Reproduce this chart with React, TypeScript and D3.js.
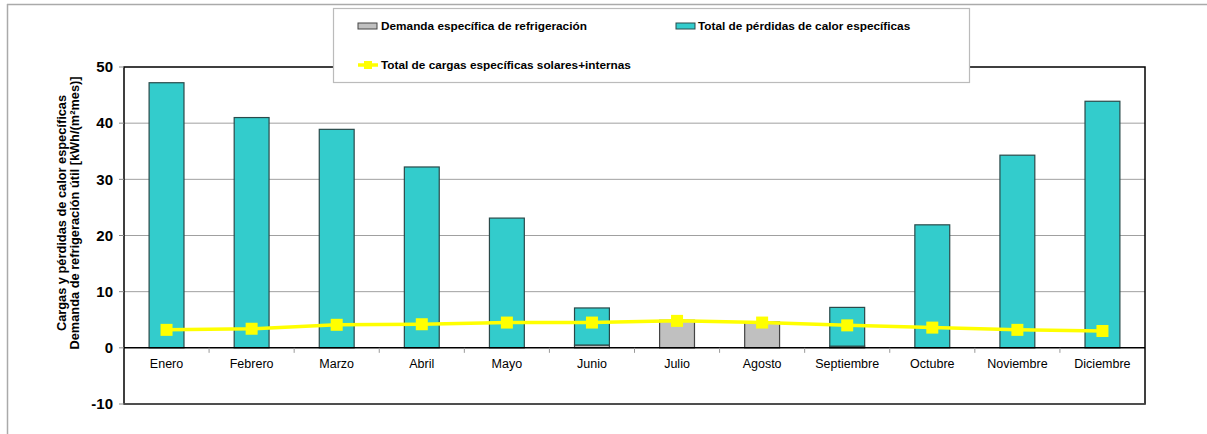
import React from "react";
import * as d3 from "d3";

const months = ["Enero","Febrero","Marzo","Abril","Mayo","Junio","Julio","Agosto","Septiembre","Octubre","Noviembre","Diciembre"];
const refrigeracion = [0, 0, 0, 0, 0, 0.5, 4.9, 4.6, 0.3, 0, 0, 0];
const perdidas = [47.2, 41.0, 38.9, 32.2, 23.1, 6.6, 0, 0, 6.9, 21.9, 34.3, 43.9];
const cargas = [3.2, 3.4, 4.1, 4.2, 4.5, 4.5, 4.8, 4.5, 4.0, 3.6, 3.2, 3.0];
const yTicks = [-10, 0, 10, 20, 30, 40, 50];

const FONT = "'Liberation Sans', Arial, sans-serif";

export default function App() {
  const W = 1207, H = 434;
  const L = 124, R = 1145, T = 67, B = 404;
  const x = d3.scaleBand<string>().domain(months).range([L, R]).paddingInner(0.59).paddingOuter(0.295);
  const xb = d3.scaleBand<string>().domain(months).range([L, R]);
  const y = d3.scaleLinear().domain([-10, 50]).range([B, T]);
  const line = d3.line<number>()
    .x((_, i) => (xb(months[i]) as number) + xb.bandwidth() / 2)
    .y((d) => y(d));

  return (
    <svg width={W} height={H} style={{ position: "absolute", left: 0, top: 0, fontFamily: FONT }}>
      <rect x={0} y={0} width={W} height={H} fill="#fff" />
      <line x1={7} x2={W} y1={4.5} y2={4.5} stroke="#aaa" strokeWidth={1.5} />
      <line x1={7.5} x2={7.5} y1={4} y2={H} stroke="#aaa" strokeWidth={1.5} />
      {/* gridlines */}
      {yTicks.filter((t) => t > 0 && t < 50).map((t) => (
        <line key={t} x1={L} x2={R} y1={y(t)} y2={y(t)} stroke="#a0a0a0" strokeWidth={1} />
      ))}
      {/* frame */}
      <rect x={L} y={T} width={R - L} height={B - T} fill="none" stroke="#000" strokeWidth={1.5} />
      <line x1={L} x2={R} y1={B} y2={B} stroke="#555" strokeWidth={1.5} />
      {/* y ticks */}
      {yTicks.map((t) => (
        <g key={t}>
          <line x1={L - 5} x2={L} y1={y(t)} y2={y(t)} stroke="#888" />
          <text x={113} y={y(t)} dy="0.35em" textAnchor="end" fontSize={15} fontWeight="bold">{t}</text>
        </g>
      ))}
      {/* bars */}
      {months.map((m, i) => {
        const bx = x(m) as number;
        const bw = x.bandwidth();
        const g0 = y(0), g1 = y(refrigeracion[i]);
        const t1 = y(refrigeracion[i] + perdidas[i]);
        return (
          <g key={m}>
            {refrigeracion[i] > 0 && (
              <rect x={bx} y={g1} width={bw} height={g0 - g1} fill="#c0c0c0" stroke="#444" strokeWidth={1.2} />
            )}
            {perdidas[i] > 0 && (
              <rect x={bx} y={t1} width={bw} height={g1 - t1} fill="#33cccc" stroke="#2a4a4a" strokeWidth={1.2} />
            )}
          </g>
        );
      })}
      {/* zero line */}
      <line x1={L} x2={R} y1={y(0)} y2={y(0)} stroke="#000" strokeWidth={1.5} />
      {/* category ticks */}
      {months.slice(1).map((m) => (
        <line key={m} x1={xb(m) as number} x2={xb(m) as number} y1={y(0)} y2={y(0) + 5} stroke="#999" />
      ))}
      {/* category labels */}
      {months.map((m) => (
        <text key={m} x={(xb(m) as number) + xb.bandwidth() / 2} y={368} textAnchor="middle" fontSize={12.5}>{m}</text>
      ))}
      {/* line series */}
      <path d={line(cargas) as string} fill="none" stroke="#ffff00" strokeWidth={3.5} />
      {cargas.map((v, i) => (
        <rect key={i} x={(xb(months[i]) as number) + xb.bandwidth() / 2 - 6} y={y(v) - 6} width={12} height={12} fill="#ffff00" />
      ))}
      {/* y axis title */}
      <g transform="translate(66,213) rotate(-90)">
        <text x={0} y={0} textAnchor="middle" fontSize={12.8} fontWeight="bold">Cargas y pérdidas de calor específicas</text>
        <text x={0} y={13} textAnchor="middle" fontSize={12.8} fontWeight="bold">Demanda de refrigeración útil [kWh/(m²mes)]</text>
      </g>
      {/* legend */}
      <rect x={333.5} y={8.5} width={636} height={74} fill="#fff" stroke="#bbb" strokeWidth={1.2} />
      <rect x={358} y={23} width={19} height={6} fill="#c0c0c0" stroke="#444" strokeWidth={1} />
      <text x={381} y={30} fontSize={11.8} fontWeight="bold">Demanda específica de refrigeración</text>
      <rect x={676} y={23} width={19} height={6} fill="#33cccc" stroke="#2a4a4a" strokeWidth={1} />
      <text x={698} y={30} fontSize={11.8} fontWeight="bold">Total de pérdidas de calor específicas</text>
      <line x1={358} x2={378} y1={65} y2={65} stroke="#ffff00" strokeWidth={3.5} />
      <rect x={364} y={61} width={8} height={8} fill="#ffff00" />
      <text x={381} y={69} fontSize={11.8} fontWeight="bold">Total de cargas específicas solares+internas</text>
    </svg>
  );
}
